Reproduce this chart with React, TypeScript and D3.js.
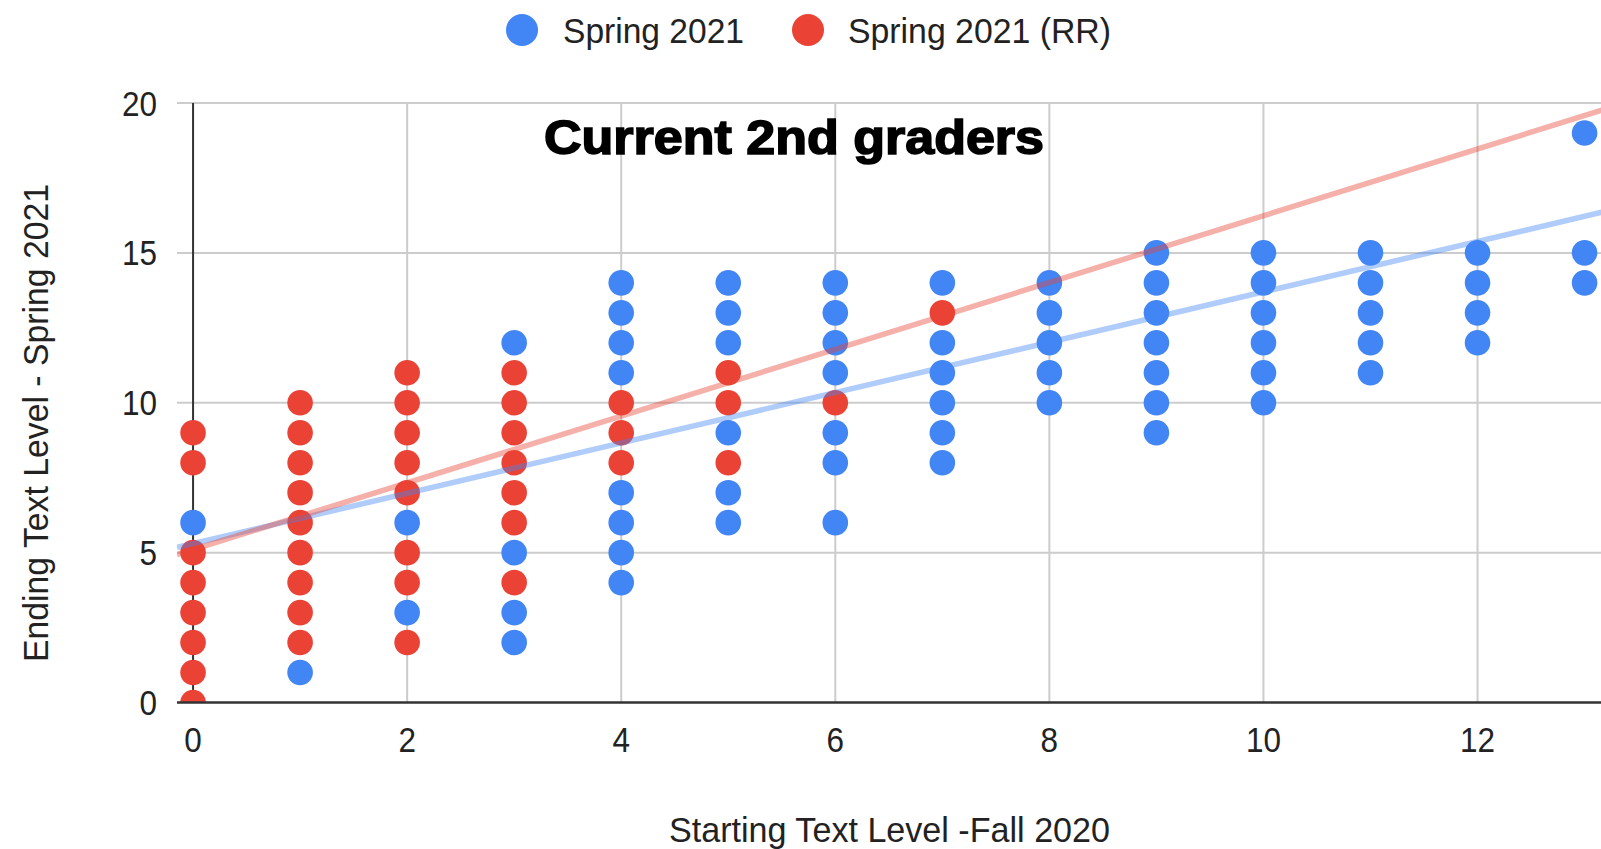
import { useEffect, useRef } from 'react';
import * as d3 from 'd3';

// starting text level (fall 2020) -> list of ending levels (spring 2021)
const startLevels = [0, 1, 2, 3, 4, 5, 6, 7, 8, 9, 10, 11, 12, 13];
const springEnd = [
  [6],
  [1],
  [3, 6],
  [2, 3, 5, 12],
  [4, 5, 6, 7, 11, 12, 13, 14],
  [6, 7, 9, 12, 13, 14],
  [6, 8, 9, 11, 12, 13, 14],
  [8, 9, 10, 11, 12, 14],
  [10, 11, 12, 13, 14],
  [9, 10, 11, 12, 13, 14, 15],
  [10, 11, 12, 13, 14, 15],
  [11, 12, 13, 14, 15],
  [12, 13, 14, 15],
  [14, 15, 19],
];
const springRREnd = [
  [0, 1, 2, 3, 4, 5, 8, 9],
  [2, 3, 4, 5, 6, 7, 8, 9, 10],
  [2, 4, 5, 7, 8, 9, 10, 11],
  [4, 6, 7, 8, 9, 10, 11],
  [8, 9, 10],
  [8, 10, 11],
  [10],
  [13],
  [], [], [], [], [], [],
];

// trendlines: [intercept, slope]
const springTrend = [5.3, 0.84];
const springRRTrend = [5.1, 1.114];

const xTicks = [0, 2, 4, 6, 8, 10, 12];
const yTicks = [0, 5, 10, 15, 20];

const BLUE = '#4285f4';
const RED = '#ea4335';

export default function App() {
  const ref = useRef<SVGSVGElement>(null);

  useEffect(() => {
    const width = 1601, height = 849;
    const left = 177, top = 103, bottom = 702.5;
    const svg = d3.select(ref.current);
    svg.selectAll('*').remove();
    svg.attr('width', width).attr('height', height);

    const x = d3.scaleLinear().domain([-0.15, 14]).range([left, left + 14.15 * 107.04]);
    const y = d3.scaleLinear().domain([0, 20]).range([bottom, top]);
    const font = '"Liberation Sans", Arial, sans-serif';

    svg.append('rect').attr('width', width).attr('height', height).attr('fill', '#fff');

    svg.append('defs').append('clipPath').attr('id', 'plot')
      .append('rect').attr('x', left).attr('y', top - 20).attr('width', width - left).attr('height', bottom - top + 20);

    // grid
    svg.append('g').selectAll('line').data(yTicks.slice(1)).join('line')
      .attr('x1', left).attr('x2', width)
      .attr('y1', d => y(d)).attr('y2', d => y(d))
      .attr('stroke', '#cccccc').attr('stroke-width', 2);
    svg.append('g').selectAll('line').data(xTicks.slice(1)).join('line')
      .attr('x1', d => x(d)).attr('x2', d => x(d))
      .attr('y1', y(20)).attr('y2', y(0))
      .attr('stroke', '#cccccc').attr('stroke-width', 2);
    svg.append('line')
      .attr('x1', x(0)).attr('x2', x(0)).attr('y1', y(20)).attr('y2', y(0))
      .attr('stroke', '#333').attr('stroke-width', 2);

    // title inside plot
    svg.append('text')
      .attr('x', 544).attr('y', 137).attr('dy', '0.36em')
      .attr('font-family', font).attr('font-size', 48).attr('font-weight', 900)
      .attr('textLength', 500).attr('lengthAdjust', 'spacingAndGlyphs')
      .attr('stroke', '#000').attr('stroke-width', 1.6)
      .attr('fill', '#000').text('Current 2nd graders');

    // points
    const pts = (lists: number[][]) =>
      lists.flatMap((ys, i) => ys.map(v => ({ x: startLevels[i], y: v })));
    const plot = svg.append('g').attr('clip-path', 'url(#plot)');
    [[springEnd, BLUE], [springRREnd, RED]].forEach(([lists, color]) => {
      plot.append('g').selectAll('circle').data(pts(lists as number[][])).join('circle')
        .attr('cx', d => x(d.x)).attr('cy', d => y(d.y)).attr('r', 12.8)
        .attr('fill', color as string);
    });

    // trendlines
    [[springTrend, BLUE], [springRRTrend, RED]].forEach(([t, color]) => {
      const [b, m] = t as number[];
      plot.append('path')
        .attr('d', d3.line<number>().x(d => x(d)).y(d => y(b + m * d))(x.domain()))
        .attr('fill', 'none').attr('stroke', color as string)
        .attr('stroke-width', 5.5).attr('stroke-opacity', 0.42);
    });

    // baseline
    svg.append('line')
      .attr('x1', left).attr('x2', width).attr('y1', y(0)).attr('y2', y(0))
      .attr('stroke', '#333').attr('stroke-width', 2.5);

    // tick labels (slightly condensed like the source)
    svg.append('g').selectAll('text').data(yTicks).join('text')
      .attr('transform', d => `translate(157,${y(d)}) scale(0.9,1)`).attr('dy', '0.36em')
      .attr('text-anchor', 'end').attr('font-family', font).attr('font-size', 35)
      .attr('fill', '#222').text(d => d);
    svg.append('g').selectAll('text').data(xTicks).join('text')
      .attr('transform', d => `translate(${x(d)},739) scale(0.9,1)`).attr('dy', '0.36em')
      .attr('text-anchor', 'middle').attr('font-family', font).attr('font-size', 35)
      .attr('fill', '#222').text(d => d);

    // axis titles
    svg.append('text')
      .attr('x', 669).attr('y', 829).attr('dy', '0.36em')
      .attr('font-family', font).attr('font-size', 35)
      .attr('textLength', 441).attr('lengthAdjust', 'spacingAndGlyphs')
      .attr('fill', '#222').text('Starting Text Level -Fall 2020');
    svg.append('text')
      .attr('transform', 'translate(35,662) rotate(-90)').attr('dy', '0.36em')
      .attr('font-family', font).attr('font-size', 35)
      .attr('textLength', 478).attr('lengthAdjust', 'spacingAndGlyphs')
      .attr('fill', '#222').text('Ending Text Level - Spring 2021');

    // legend
    const legend = [
      { label: 'Spring 2021', color: BLUE, cx: 522, tx: 563, w: 181 },
      { label: 'Spring 2021 (RR)', color: RED, cx: 808, tx: 848, w: 263 },
    ];
    const lg = svg.append('g').selectAll('g').data(legend).join('g');
    lg.append('circle').attr('cx', d => d.cx).attr('cy', 30).attr('r', 16).attr('fill', d => d.color);
    lg.append('text').attr('x', d => d.tx).attr('y', 30).attr('dy', '0.36em')
      .attr('font-family', font).attr('font-size', 35)
      .attr('textLength', d => d.w).attr('lengthAdjust', 'spacingAndGlyphs')
      .attr('fill', '#222').text(d => d.label);
  }, []);

  return (
    <div style={{ position: 'absolute', left: 0, top: 0 }}>
      <svg ref={ref} style={{ display: 'block' }}></svg>
    </div>
  );
}
